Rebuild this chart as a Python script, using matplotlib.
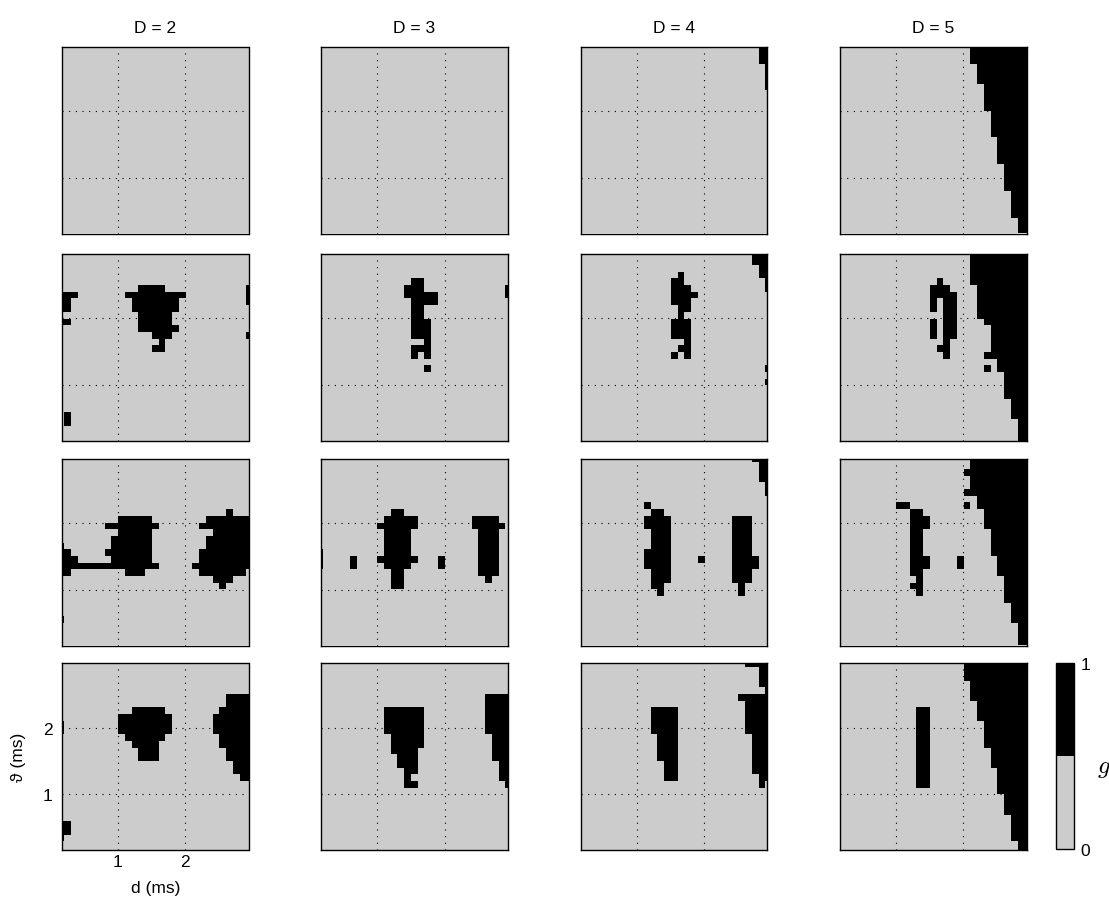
import numpy as np
import matplotlib
matplotlib.use("Agg")
import matplotlib.pyplot as plt
from matplotlib.colors import ListedColormap, Normalize
from matplotlib.cm import ScalarMappable

plt.rcParams['font.family'] = ['Liberation Sans', 'DejaVu Sans']
plt.rcParams['lines.scale_dashes'] = False
plt.rcParams['mathtext.fontset'] = 'cm'

# ---------------- data ----------------
COL_TITLES = ['D = 2', 'D = 3', 'D = 4', 'D = 5']
X_LABEL = 'd (ms)'
Y_LABEL = 'ϑ (ms)'
CBAR_LABEL = r'$g$'
TICKS = [1, 2]
CBAR_TICKS = [0, 1]
GRID_START = 0.1     # first cell edge (ms)
GRID_STEP = 0.1      # cell size (ms)
N_CELLS = 29         # cells per axis
X_RANGE = (0.168, 2.94)
Y_RANGE = (0.17, 2.965)

# black cells (g = 1): row index from top (row 0 = 2.9-3.0 ms), runs of columns (inclusive)
R1C1 = {}
R1C2 = {}
R1C3 = {0: [(27, 28)], 1: [(27, 28)], 2: [(27, 28)], 3: [(28, 28)], 4: [(28, 28)],
        5: [(28, 28)], 6: [(28, 28)]}
R1C4 = {}
W_R1C4 = [20, 20, 20, 21, 21, 21, 22, 22, 22, 22, 23, 23, 23, 23, 24, 24, 24, 24,
          25, 25, 25, 25, 26, 26, 26, 26, 27, 27, 27]

R2C1 = {5: [(12, 15), (28, 28)], 6: [(0, 2), (10, 18), (28, 28)], 7: [(0, 1), (11, 17), (28, 28)],
        8: [(0, 1), (11, 17)], 9: [(12, 16)], 10: [(0, 1), (12, 16)], 11: [(12, 17)],
        12: [(14, 16), (28, 28)], 13: [(15, 15)], 14: [(14, 15)], 24: [(1, 1)], 25: [(1, 1)]}
R2C2 = {4: [(14, 15)], 5: [(13, 15), (28, 28)], 6: [(13, 17), (28, 28)], 7: [(14, 17)],
        8: [(14, 15)], 9: [(14, 15)], 10: [(14, 16)], 11: [(14, 16)], 12: [(14, 16)],
        13: [(16, 16)], 14: [(14, 16)], 15: [(14, 14), (16, 16)], 17: [(16, 16)]}
R2C3 = {0: [(26, 28)], 1: [(26, 28)], 2: [(27, 28)], 3: [(15, 15), (27, 28)],
        4: [(14, 15), (28, 28)], 5: [(14, 16), (28, 28)], 6: [(14, 17)], 7: [(14, 16)],
        8: [(15, 16)], 9: [(15, 15)], 10: [(14, 16)], 11: [(14, 16)], 12: [(14, 16)],
        13: [(16, 16)], 14: [(15, 16)], 15: [(14, 14), (16, 16)], 17: [(28, 28)], 19: [(28, 28)]}
R2C4 = {4: [(15, 15)], 5: [(14, 16)], 6: [(14, 17)], 7: [(14, 14), (16, 17)],
        8: [(14, 14), (16, 17)], 9: [(16, 17)], 10: [(14, 14), (16, 17)],
        11: [(14, 14), (16, 17)], 12: [(14, 14), (16, 17)], 13: [(16, 16)], 14: [(15, 16)],
        15: [(16, 16)], 17: [(22, 22)]}
W_R2C4 = [20, 20, 20, 20, 20, 21, 21, 21, 21, 21, 22, 23, 23, 23, 23, 22, 24, 24,
          25, 25, 25, 25, 26, 26, 26, 27, 27, 27, 27]

R3C1 = {8: [(25, 25)], 9: [(9, 13), (22, 28)], 10: [(7, 14), (21, 28)], 11: [(9, 13), (23, 28)],
        12: [(8, 13), (22, 28)], 13: [(0, 0), (8, 13), (22, 28)], 14: [(0, 1), (7, 13), (21, 28)],
        15: [(0, 2), (8, 13), (21, 28)], 16: [(0, 14), (20, 28)], 17: [(0, 1), (10, 12), (21, 27)],
        18: [(23, 25)], 19: [(24, 24)], 24: [(0, 0)]}
R3C2 = {8: [(11, 12)], 9: [(10, 14), (23, 26)], 10: [(9, 14), (23, 27)],
        11: [(10, 13), (24, 26)], 12: [(10, 13), (24, 26)], 13: [(10, 13), (24, 26)],
        14: [(0, 0), (10, 13), (24, 26)], 15: [(0, 0), (5, 5), (9, 14), (18, 18), (24, 26)],
        16: [(0, 0), (5, 5), (10, 13), (18, 18), (24, 26)], 17: [(11, 12), (24, 26)],
        18: [(11, 12), (25, 25)], 19: [(11, 12)]}
R3C3 = {0: [(26, 28)], 1: [(27, 28)], 2: [(27, 28)], 3: [(27, 28)], 4: [(28, 28)], 5: [(28, 28)],
        7: [(10, 10)], 8: [(11, 12)], 9: [(10, 13), (23, 25)], 10: [(10, 13), (23, 25)],
        11: [(11, 13), (23, 25)], 12: [(11, 13), (23, 25)], 13: [(11, 13), (23, 25)],
        14: [(10, 13), (23, 25)], 15: [(10, 13), (18, 18), (23, 26)], 16: [(10, 13), (23, 26)],
        17: [(11, 13), (23, 25)], 18: [(11, 13), (23, 25)], 19: [(11, 12), (24, 24)],
        20: [(12, 12), (24, 24)]}
R3C4 = {7: [(9, 10), (19, 19)], 8: [(11, 12)], 9: [(11, 13)], 10: [(11, 13)], 11: [(11, 12)],
        12: [(11, 12)], 13: [(11, 12)], 14: [(11, 12)], 15: [(11, 13), (18, 18)],
        16: [(11, 13), (18, 18)], 17: [(11, 12)], 18: [(12, 12)], 19: [(11, 12)], 20: [(12, 12)]}
W_R3C4 = [20, 20, 19, 20, 20, 19, 21, 21, 22, 22, 22, 23, 23, 23, 23, 24, 24, 24,
          25, 25, 25, 25, 26, 26, 26, 27, 27, 27, 27]

R4C1 = {5: [(25, 28)], 6: [(25, 28)], 7: [(11, 15), (24, 28)], 8: [(9, 16), (23, 28)],
        9: [(0, 0), (9, 16), (23, 28)], 10: [(0, 0), (9, 16), (23, 28)], 11: [(10, 15), (24, 28)],
        12: [(11, 14), (24, 28)], 13: [(12, 14), (25, 28)], 14: [(12, 14), (25, 28)],
        15: [(26, 28)], 16: [(26, 28)], 17: [(27, 28)], 24: [(0, 1)], 25: [(0, 1)], 26: [(0, 0)]}
R4C2 = {5: [(25, 28)], 6: [(25, 28)], 7: [(10, 15), (25, 28)], 8: [(10, 15), (25, 28)],
        9: [(10, 15), (25, 28)], 10: [(10, 15), (25, 28)], 11: [(11, 15), (26, 28)],
        12: [(11, 15), (26, 28)], 13: [(11, 14), (26, 28)], 14: [(12, 14), (26, 28)],
        15: [(12, 14), (27, 28)], 16: [(13, 14), (27, 28)], 17: [(13, 13), (27, 28)],
        18: [(13, 14), (28, 28)]}
R4C3 = {0: [(25, 28)], 1: [(27, 28)], 2: [(27, 28)], 3: [(27, 28)], 4: [(28, 28)],
        5: [(24, 28)], 6: [(25, 28)], 7: [(11, 14), (25, 28)], 8: [(11, 14), (25, 28)],
        9: [(11, 14), (25, 28)], 10: [(11, 14), (25, 28)], 11: [(12, 14), (26, 28)],
        12: [(12, 14), (26, 28)], 13: [(12, 14), (26, 28)], 14: [(12, 14), (26, 28)],
        15: [(13, 14), (26, 28)], 16: [(13, 14), (26, 28)], 17: [(13, 14), (27, 28)],
        18: [(27, 27)]}
R4C4 = {r: [(12, 13)] for r in range(7, 19)}
W_R4C4 = [19, 19, 19, 20, 20, 20, 21, 21, 21, 22, 22, 22, 22, 23, 23, 23, 24, 24,
          24, 24, 25, 25, 25, 26, 26, 26, 26, 27, 27]

PANELS = [
    [(R1C1, None), (R1C2, None), (R1C3, None), (R1C4, W_R1C4)],
    [(R2C1, None), (R2C2, None), (R2C3, None), (R2C4, W_R2C4)],
    [(R3C1, None), (R3C2, None), (R3C3, None), (R3C4, W_R3C4)],
    [(R4C1, None), (R4C2, None), (R4C3, None), (R4C4, W_R4C4)],
]

GRAY = '#cccccc'
CMAP = ListedColormap([GRAY, 'black'])


def build_mask(runs, wedge):
    m = np.zeros((N_CELLS, N_CELLS))
    for r, segs in runs.items():
        for a, b in segs:
            m[r, a:b + 1] = 1
    if wedge is not None:
        for r, s in enumerate(wedge):
            m[r, s:] = 1
    return m


# ---------------- layout ----------------
W, H = 1109, 904
fig = plt.figure(figsize=(W / 100, H / 100), dpi=100)

col_left = [62, 321.3, 580.6, 840]
row_top = [48, 255, 460, 664.3]
pw, ph = 186.5, 186.5

lo = GRID_START
hi = GRID_START + GRID_STEP * N_CELLS

for i in range(4):
    for j in range(4):
        runs, wedge = PANELS[i][j]
        ax = fig.add_axes([col_left[j] / W, 1 - (row_top[i] + ph) / H, pw / W, ph / H])
        mask = build_mask(runs, wedge)
        ax.imshow(mask, cmap=CMAP, vmin=0, vmax=1, extent=(lo, hi, lo, hi),
                  origin='upper', interpolation='nearest', aspect='auto')
        ax.set_xlim(*X_RANGE)
        ax.set_ylim(*Y_RANGE)
        ax.set_xticks(TICKS)
        ax.set_yticks(TICKS)
        ax.grid(True, color='black', linestyle=(0, (0.8, 4.0)), linewidth=0.8)
        ax.tick_params(length=0)
        for sp in ax.spines.values():
            sp.set_linewidth(1.0)
        if i == 3 and j == 0:
            ax.set_xticklabels([str(t) for t in TICKS], fontsize=12.5)
            ax.set_yticklabels([str(t) for t in TICKS], fontsize=12.5)
            ax.tick_params(axis='x', pad=3)
            ax.tick_params(axis='y', pad=7)
            ax.set_xlabel(X_LABEL, fontsize=12.5, labelpad=8)
            ax.set_ylabel(Y_LABEL, fontsize=12.5, labelpad=12)
        else:
            ax.set_xticklabels([])
            ax.set_yticklabels([])
        if i == 0:
            ax.set_title(COL_TITLES[j], fontsize=12.5, pad=11)

# colorbar
cax = fig.add_axes([1056 / W, 1 - 850 / H, 17.5 / W, 186 / H])
sm = ScalarMappable(norm=Normalize(0, 1), cmap=CMAP)
cb = fig.colorbar(sm, cax=cax, ticks=CBAR_TICKS)
cb.ax.set_yticklabels([str(t) for t in CBAR_TICKS], fontsize=12.5)
cb.ax.tick_params(length=0, pad=5)
cb.outline.set_linewidth(1.0)
cb.ax.set_ylabel(CBAR_LABEL, rotation=0, fontsize=18, va='center', ha='center')
cb.ax.yaxis.set_label_coords(2.75, 0.44)

fig.savefig('out.png', dpi=100)
